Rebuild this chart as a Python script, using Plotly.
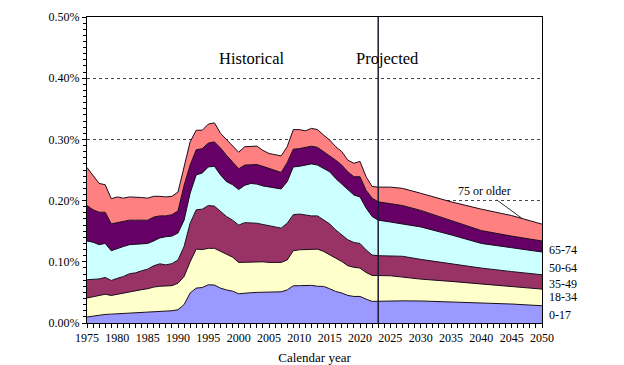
import numpy as np
import plotly.graph_objects as go

# Calendar years (annual historical, sparse projected points)
years = list(range(1975, 2024)) + [2025, 2027, 2030, 2035, 2040, 2045, 2050]

# Cumulative boundaries (percent), bottom to top
top_0_17 = [0.0098, 0.0115, 0.013, 0.014, 0.0145, 0.015, 0.0155, 0.016, 0.0167, 0.0172,
            0.018, 0.0185, 0.019, 0.019, 0.020, 0.0217, 0.030, 0.049, 0.057, 0.058,
            0.0625, 0.062, 0.057, 0.054, 0.052, 0.0478, 0.049, 0.0495, 0.050, 0.050,
            0.050, 0.0505, 0.051, 0.054, 0.0608, 0.061, 0.061, 0.0615, 0.060, 0.0597,
            0.056, 0.0515, 0.049, 0.045, 0.0434, 0.0434, 0.039, 0.0353, 0.0355,
            0.0364, 0.0362, 0.036, 0.0347, 0.0326, 0.031, 0.0282]
top_18_34 = [0.0408, 0.043, 0.046, 0.047, 0.045, 0.047, 0.049, 0.0515, 0.053, 0.0545,
             0.056, 0.0587, 0.060, 0.060, 0.061, 0.065, 0.076, 0.100, 0.1207, 0.120,
             0.122, 0.122, 0.117, 0.113, 0.1076, 0.099, 0.0995, 0.100, 0.1005, 0.100,
             0.099, 0.099, 0.099, 0.103, 0.118, 0.1196, 0.120, 0.121, 0.1207, 0.117,
             0.111, 0.106, 0.1005, 0.0935, 0.091, 0.0897, 0.0826, 0.0777, 0.0775,
             0.0772, 0.075, 0.0717, 0.068, 0.0636, 0.0597, 0.0554]
top_35_49 = [0.0707, 0.071, 0.072, 0.0745, 0.0695, 0.073, 0.076, 0.0805, 0.082, 0.0853,
             0.088, 0.0935, 0.0967, 0.095, 0.097, 0.103, 0.125, 0.163, 0.185, 0.186,
             0.192, 0.191, 0.182, 0.174, 0.168, 0.160, 0.164, 0.164, 0.163, 0.161,
             0.159, 0.157, 0.155, 0.163, 0.177, 0.178, 0.176, 0.175, 0.175, 0.168,
             0.162, 0.152, 0.144, 0.136, 0.1315, 0.130, 0.1195, 0.111, 0.110,
             0.109, 0.109, 0.104, 0.0967, 0.0897, 0.084, 0.0788]
top_50_64 = [0.134, 0.132, 0.128, 0.130, 0.118, 0.122, 0.125, 0.128, 0.129, 0.129,
             0.130, 0.134, 0.139, 0.141, 0.142, 0.147, 0.168, 0.212, 0.242, 0.245,
             0.255, 0.256, 0.242, 0.231, 0.226, 0.218, 0.225, 0.228, 0.227, 0.224,
             0.222, 0.220, 0.219, 0.231, 0.255, 0.256, 0.258, 0.260, 0.258, 0.253,
             0.247, 0.236, 0.227, 0.217, 0.209, 0.206, 0.188, 0.174, 0.168,
             0.165, 0.162, 0.157, 0.144, 0.130, 0.123, 0.116]
top_65_74 = [0.192, 0.185, 0.181, 0.181, 0.162, 0.164, 0.166, 0.168, 0.168, 0.168,
             0.168, 0.173, 0.175, 0.175, 0.177, 0.183, 0.225, 0.258, 0.283, 0.285,
             0.294, 0.296, 0.286, 0.274, 0.263, 0.252, 0.258, 0.259, 0.259, 0.256,
             0.253, 0.249, 0.246, 0.262, 0.284, 0.285, 0.287, 0.289, 0.287, 0.280,
             0.274, 0.266, 0.258, 0.247, 0.239, 0.239, 0.217, 0.204, 0.198,
             0.195, 0.192, 0.184, 0.167, 0.151, 0.142, 0.134]
top_75_plus = [0.254, 0.240, 0.228, 0.226, 0.203, 0.206, 0.204, 0.206, 0.206, 0.205,
               0.204, 0.207, 0.207, 0.206, 0.207, 0.214, 0.255, 0.296, 0.315, 0.315,
               0.325, 0.327, 0.310, 0.300, 0.289, 0.279, 0.288, 0.289, 0.289, 0.282,
               0.277, 0.275, 0.273, 0.288, 0.316, 0.316, 0.314, 0.318, 0.316, 0.307,
               0.299, 0.288, 0.280, 0.266, 0.261, 0.264, 0.239, 0.223, 0.222,
               0.222, 0.220, 0.212, 0.198, 0.186, 0.1755, 0.1615]

age_groups = ["0-17", "18-34", "35-49", "50-64", "65-74", "75 or older"]
colors = ["#9999FF", "#FFFFCC", "#993366", "#CCFFFF", "#660066", "#FF8080"]
right_labels = ["65-74", "50-64", "35-49", "18-34", "0-17"]
right_label_y = [0.1185, 0.0902, 0.0641, 0.0429, 0.0135]

cum = np.array([top_0_17, top_18_34, top_35_49, top_50_64, top_65_74, top_75_plus])
shares = np.vstack([cum[0], np.diff(cum, axis=0)])

fig = go.Figure()
for name, vals, col in zip(age_groups, shares, colors):
    fig.add_trace(go.Scatter(
        x=years, y=vals, name=name, mode="lines", stackgroup="one",
        fillcolor=col, line=dict(color="#1a0a1a", width=1), showlegend=False,
    ))

font_family = "Liberation Serif, Times New Roman, serif"

fig.add_shape(type="line", xref="x", yref="paper", x0=2023, x1=2023, y0=0, y1=1,
              line=dict(color="#1a1a33", width=1.5), layer="above")

fig.add_annotation(text="Historical", xref="paper", yref="paper", x=(251 - 87) / 455,
                   y=(323.3 - 47) / 306.3, showarrow=False, font=dict(size=16.5, color="black"))
fig.add_annotation(text="Projected", xref="paper", yref="paper", x=(421 - 87) / 455,
                   y=(323.3 - 47) / 306.3, showarrow=False, font=dict(size=16.5, color="black"))
fig.add_annotation(text="75 or older", x=2046.7, y=0.171, xref="x", yref="y",
                   ax=-37, ay=-27, showarrow=True, arrowhead=0, arrowwidth=1,
                   arrowcolor="#333", font=dict(size=12, color="black"))
for lab, yv in zip(right_labels, right_label_y):
    fig.add_annotation(text=lab, xref="paper", yref="y", x=1.01, y=yv, xanchor="left",
                       showarrow=False, font=dict(size=12, color="black"))

# page body has an 8px margin; margins below compensate so the plot area
# lands at x 87..542, y 17..323 in the window
fig.update_layout(
    width=624, height=365,
    margin=dict(l=79, r=90, t=9, b=50, autoexpand=False),
    paper_bgcolor="white", plot_bgcolor="white",
    font=dict(family=font_family, size=12, color="black"),
    xaxis=dict(
        range=[1975, 2050], tick0=1975, dtick=5, showgrid=False,
        showline=True, linecolor="black", linewidth=1, mirror=True,
        ticks="outside", ticklen=4, tickcolor="black",
        minor=dict(dtick=1, ticks="outside", ticklen=4, tickcolor="black"),
        title=dict(text="Calendar year", font=dict(size=13), standoff=8),
        tickfont=dict(size=12), zeroline=False, automargin=False,
    ),
    yaxis=dict(
        range=[0, 0.5], dtick=0.1, tickformat=".2f", ticksuffix="%",
        showgrid=True, gridcolor="#444444", griddash="dot", gridwidth=1,
        showline=True, linecolor="black", linewidth=1, mirror=True,
        ticks="outside", ticklen=4, tickcolor="black",
        minor=dict(dtick=0.01, ticks="outside", ticklen=3, tickcolor="black"),
        tickfont=dict(size=12), zeroline=False, automargin=False,
    ),
)

fig.write_html("out.html")
